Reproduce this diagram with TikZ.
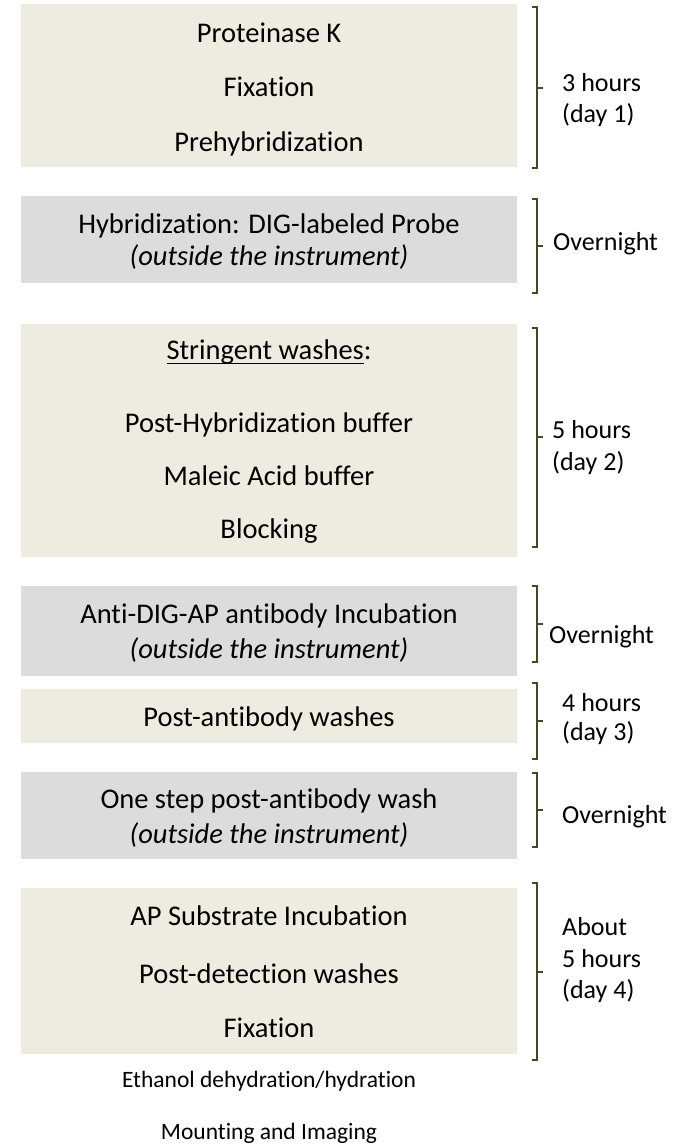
\documentclass[tikz,border=0pt]{standalone}
\usepackage{fontspec}
\setmainfont[Ligatures=NoCommon]{Carlito}
\definecolor{tanfill}{HTML}{EEECE1}
\definecolor{greyfill}{HTML}{DCDCDC}
\definecolor{brkcol}{HTML}{4A452A}
\newcommand{\mybrace}[3]{\draw[bracket] (532,-#1) -| (537,-#3) -- (532,-#3) (537,-#2) -- (543,-#2);}
\begin{document}
\begin{tikzpicture}[x=1pt,y=1pt,
  box/.style={draw=none,inner sep=0pt,minimum width=496pt,anchor=north west},
  tanbox/.style={box,fill=tanfill},
  greybox/.style={box,fill=greyfill},
  txt/.style={anchor=base,inner sep=0pt,font=\fontsize{28.5}{34}\selectfont},
  itxt/.style={txt,font=\fontsize{28.5}{34}\selectfont\itshape},
  side/.style={anchor=base west,inner sep=0pt,font=\fontsize{26}{31}\selectfont},
  foot/.style={anchor=base,inner sep=0pt,font=\fontsize{23.5}{28}\selectfont},
  bracket/.style={draw=brkcol,line width=1.3pt}]
\useasboundingbox (0,0) rectangle (687,-1144);
% boxes
\node[tanbox,minimum height=163pt] (b1) at (21,-4) {};
\node[greybox,minimum height=87pt] (b2) at (21,-196) {};
\node[tanbox,minimum height=233pt] (b3) at (21,-324) {};
\node[greybox,minimum height=90pt] (b4) at (21,-586) {};
\node[tanbox,minimum height=54pt] (b5) at (21,-689) {};
\node[greybox,minimum height=87pt] (b6) at (21,-772) {};
\node[tanbox,minimum height=166pt] (b7) at (21,-888) {};
% box texts
\node[txt] (t1a) at (269,-42) {Proteinase K};
\node[txt] (t1b) at (269,-96) {Fixation};
\node[txt] (t1c) at (269,-151) {Prehybridization};
\node[txt] (t2a) at (269,-233) {Hybridization: DIG-labeled Probe};
\node[itxt] (t2b) at (269,-265) {(outside the instrument)};
\node[txt] (t3a) at (269,-359) {\setbox0\hbox{Stringent washes}\rlap{\rule[-4.8pt]{\wd0}{1.2pt}}\box0:};
\node[txt] (t3b) at (269,-432) {Post-Hybridization buffer};
\node[txt] (t3c) at (269,-485) {Maleic Acid buffer};
\node[txt] (t3d) at (269,-538) {Blocking};
\node[txt] (t4a) at (269,-623) {Anti-DIG-AP antibody Incubation};
\node[itxt] (t4b) at (269,-658) {(outside the instrument)};
\node[txt] (t5a) at (269,-726) {Post-antibody washes};
\node[txt] (t6a) at (269,-808) {One step post-antibody wash};
\node[itxt] (t6b) at (269,-843) {(outside the instrument)};
\node[txt] (t7a) at (269,-925) {AP Substrate Incubation};
\node[txt] (t7b) at (269,-983) {Post-detection washes};
\node[txt] (t7c) at (269,-1037) {Fixation};
\node[foot] (f1) at (269,-1087) {Ethanol dehydration/hydration};
\node[foot] (f2) at (269,-1139) {Mounting and Imaging};
% brackets
\mybrace{7}{88}{168}
\mybrace{199}{246}{293}
\mybrace{328}{437}{547}
\mybrace{586}{624}{662}
\mybrace{683}{721}{759}
\mybrace{773}{810}{847}
\mybrace{883}{972}{1060}
% side labels
\node[side] (s1a) at (562,-91) {3 hours};
\node[side] (s1b) at (562,-122) {(day 1)};
\node[side] (s2) at (553,-250) {Overnight};
\node[side] (s3a) at (552,-438) {5 hours};
\node[side] (s3b) at (552,-470) {(day 2)};
\node[side] (s4) at (549,-643) {Overnight};
\node[side] (s5a) at (562,-711) {4 hours};
\node[side] (s5b) at (562,-740) {(day 3)};
\node[side] (s6) at (562,-823) {Overnight};
\node[side] (s7a) at (562,-935) {About};
\node[side] (s7b) at (562,-967) {5 hours};
\node[side] (s7c) at (562,-998) {(day 4)};
\end{tikzpicture}
\end{document}
